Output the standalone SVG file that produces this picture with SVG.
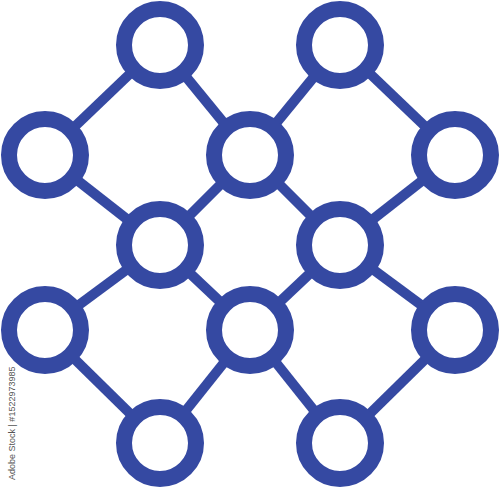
<svg xmlns="http://www.w3.org/2000/svg" width="500" height="488" viewBox="0 0 500 488">
<style>
.e{stroke:#3549a2;stroke-width:10;fill:none}
.n{fill:#fff;stroke:#3549a2;stroke-width:16}
.wm{font-family:"Liberation Sans",Arial,sans-serif;font-size:9px;fill:#555}
</style>
<rect width="500" height="488" fill="#fff"/>
<g id="edges">
<line class="e" x1="160" y1="45" x2="45" y2="155"/>
<line class="e" x1="160" y1="45" x2="250" y2="155"/>
<line class="e" x1="340" y1="45" x2="250" y2="155"/>
<line class="e" x1="340" y1="45" x2="455" y2="155"/>
<line class="e" x1="45" y1="155" x2="160" y2="245"/>
<line class="e" x1="250" y1="155" x2="160" y2="245"/>
<line class="e" x1="250" y1="155" x2="340" y2="245"/>
<line class="e" x1="455" y1="155" x2="340" y2="245"/>
<line class="e" x1="160" y1="245" x2="45" y2="330"/>
<line class="e" x1="160" y1="245" x2="250" y2="330"/>
<line class="e" x1="340" y1="245" x2="250" y2="330"/>
<line class="e" x1="340" y1="245" x2="455" y2="330"/>
<line class="e" x1="45" y1="330" x2="160" y2="443"/>
<line class="e" x1="250" y1="330" x2="160" y2="443"/>
<line class="e" x1="250" y1="330" x2="340" y2="443"/>
<line class="e" x1="455" y1="330" x2="340" y2="443"/>
</g>
<g id="n1"><circle class="n" cx="160" cy="45" r="36"/></g>
<g id="n2"><circle class="n" cx="340" cy="45" r="36"/></g>
<g id="n3"><circle class="n" cx="45" cy="155" r="36"/></g>
<g id="n4"><circle class="n" cx="250" cy="155" r="36"/></g>
<g id="n5"><circle class="n" cx="455" cy="155" r="36"/></g>
<g id="n6"><circle class="n" cx="160" cy="245" r="36"/></g>
<g id="n7"><circle class="n" cx="340" cy="245" r="36"/></g>
<g id="n8"><circle class="n" cx="45" cy="330" r="36"/></g>
<g id="n9"><circle class="n" cx="250" cy="330" r="36"/></g>
<g id="n10"><circle class="n" cx="455" cy="330" r="36"/></g>
<g id="n11"><circle class="n" cx="160" cy="443" r="36"/></g>
<g id="n12"><circle class="n" cx="340" cy="443" r="36"/></g>
<text class="wm" transform="translate(15,480) rotate(-90)">Adobe Stock | #1522973985</text>
</svg>
